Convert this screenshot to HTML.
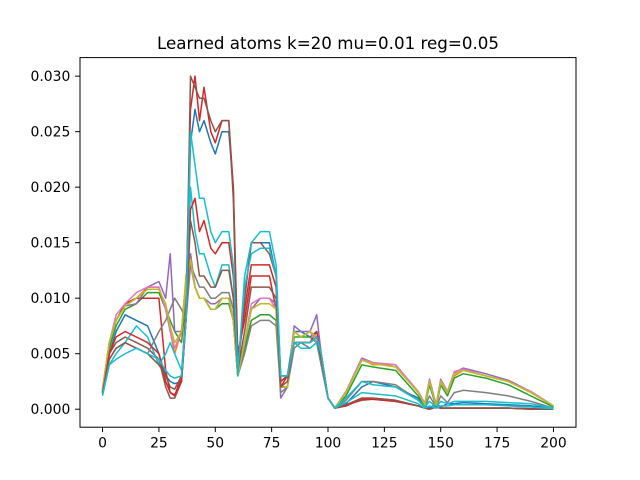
<!DOCTYPE html>
<html><head><meta charset="utf-8"><style>
html,body{margin:0;padding:0;background:#fff;width:640px;height:480px;overflow:hidden}
text{font-family:"DejaVu Sans","Liberation Sans",sans-serif}
</style></head><body>
<svg id="chart" width="640" height="480" xmlns="http://www.w3.org/2000/svg">
<rect width="640" height="480" fill="#fff"/>
<text x="328" y="49" font-size="16.7" text-anchor="middle">Learned atoms k=20 mu=0.01 reg=0.05</text>
<g id="plot"></g>
<rect x="80" y="57.6" width="496" height="369.6" fill="none" stroke="#000" stroke-width="1"/>
<g id="axes"></g>
</svg>
<script>
const xs=[0,3,6,10,15,20,25,28,30,32,35,37,39,41,43,45,48,50,53,56,58,60,63,66,70,74,77,79,82,85,88,92,95,97,100,103,108,115,120,130,140,143,145,148,150,153,156,160,170,180,190,200];
const blue=[1.5,5,7,8.5,8,7.5,5,3,2.5,2.3,2.5,8,24,27,25,26,24,23,25,25,20,4,10,15,15,15,12,3,3,7,7,6.5,7,5,1,0.1,0.5,2,2.5,2,1,0.3,0.1,0.5,0.2,0.5,0.5,0.6,0.5,0.4,0.3,0.1];
const orange=[1.8,6,8,9.5,10,11,11,9,7,5,7,12,14,11,10,10,9,9,10,10,8,3,6,9,10,10,9,2,2,7,6.5,7,6.5,4,1,0.1,1.5,4.5,4,4,1.5,0.5,2.5,0.3,2.5,1.5,3,3.5,3,2.5,1.5,0.3];
const green=[1.6,5.5,7.5,9,9.5,10.5,10.5,9,8,7,6,10,13,11,10,10,9,9,9.5,9.5,8,3,5.5,8,8.5,8.5,8,2,2,6.5,6.5,6.5,6,4,1,0.1,1.2,4,3.8,3.5,1.2,0.3,2.2,0.2,2.2,1.2,2.8,3.2,2.8,2.2,1.2,0.2];
const red=[1.5,6,8,9.5,10,10,10,3.5,1.5,1.2,3,9,27,30,26,29,25,24,26,26,20,5,8,12,12,12,9,2,3,6,6,6,7,5,1,0.1,0.3,1,1,0.8,0.3,0.1,0,0.2,0.1,0.1,0.1,0.1,0.1,0.1,0.05,0];
const red2=[1.4,5,6.5,7,6.5,6,5,2.5,1.5,1.3,2.5,8,18,19,16,17,14.5,14,15,15,12,4,9,13,13,13,11,2.5,3,6,6,6,6.5,5,1,0.1,0.3,0.9,0.9,0.7,0.3,0.1,0,0.2,0.1,0.1,0.1,0.1,0.1,0.1,0.05,0];
const purple=[1.8,6,8,9.3,9.5,11,11.5,10,14,7,7,11,14,11,10,10,9.5,9.5,10,10,8,3,6,9,10,10,9.5,1,2,7.5,7,7,8.5,5,1,0.1,1.6,4.6,4.2,4,1.6,0.5,2.7,0.4,2.7,1.6,3.3,3.7,3.2,2.6,1.6,0.3];
const brown=[1.5,5,6,6.5,6,5.5,4.5,2,1,1,2.5,8,30,29,28,28,26,25,26,26,19,3.5,10,15,15,14,12,2.5,3,6,6,6,6.5,5,1,0.1,0.4,0.8,0.9,0.7,0.3,0.1,0,0.2,0.1,0.1,0.1,0.1,0.1,0.1,0,0];
const brown2=[1.5,4.5,5.5,6,5.5,5,4,3,2,1.8,3,8,17,15,12,12,11,11,12.5,12.5,10,3.5,7,11,11,11,10,2,2.5,6,6,6,6.5,4.5,1,0.1,0.4,1,1,0.8,0.3,0.1,0,0.2,0.1,0.1,0.1,0.1,0.1,0.1,0,0];
const pink=[1.7,6,8.5,9.5,10.5,11,11,9,7,5.5,7,11,13,11,10,10,9,9,10,10,8,3,6,9.5,10,10,9,2,2,7,6.5,7,6,4.5,1,0.1,1.6,4.5,4.2,4,1.6,0.5,2.6,0.3,2.6,1.6,3.4,3.6,3,2.5,1.6,0.3];
const gray=[1.5,4.5,5.5,6,5.5,5,7,8,9,10,9,8,13,12,11,11,10,10,10.5,10.5,9,3,5,7.5,8,8,7.5,1.5,2,5.5,6,5.5,6,4,1,0.1,0.8,2.5,2.5,2.2,0.8,0.2,1.2,0.2,1.2,0.6,1.5,1.7,1.5,1.2,0.7,0.1];
const olive=[1.7,6,8,9.3,10,10.8,10.8,9.5,7.5,6,7,11.5,13.5,11,10,10,9,9,10,10,8,3,6,9,9.5,9.5,9,2,2,7,6.5,7,6.5,4.5,1,0.1,1.5,4.4,4.1,3.8,1.5,0.4,2.5,0.3,2.5,1.5,3.2,3.5,3,2.5,1.5,0.3];
const cyan=[1.2,4,5,6,7.5,6.5,4,5,6,5,3.5,8,20,16,14,14,12,11,13,13,10,3,12,15,16,16,13,3,3,6,5.5,5.5,6,4.5,1,0.1,1,2.5,2.2,2,0.8,0.2,0.7,0.2,0.7,0.5,0.7,0.7,0.7,0.6,0.5,0.1];
const cyan2=[1.3,4,4.5,5,5.5,5,4.5,3.5,3,2.8,3,8,25,22,19,19,16,15,16,16,13,3.5,11,14,14.5,14.5,12,3,3,6,6,6,6.5,5,1,0.1,0.6,1.5,1.4,1.2,0.5,0.1,0.3,0.1,0.3,0.3,0.4,0.4,0.4,0.3,0.2,0.05];
const seriesList=[blue,orange,green,red,purple,brown,pink,gray,olive,cyan,red2,brown2,cyan2];
const seriesNames=['blue','orange','green','red','purple','brown','pink','gray','olive','cyan','red-2','brown-2','cyan-2'];
const colors=['#1f77b4','#ff7f0e','#2ca02c','#d62728','#9467bd','#8c564b','#e377c2','#7f7f7f','#bcbd22','#17becf','#d62728','#8c564b','#17becf'];
const xTicks=[0,25,50,75,100,125,150,175,200];
const yTicks=[0,0.005,0.01,0.015,0.02,0.025,0.03];
const yTickLabels=['0.000','0.005','0.010','0.015','0.020','0.025','0.030'];
const SCALE=0.001;
const NS='http://www.w3.org/2000/svg';
const xMin=-10,xMax=210,yMin=-0.00162,yMax=0.03167;
const L=80,R=576,T=57.6,B=427.2;
function sx(v){return L+(v-xMin)/(xMax-xMin)*(R-L);}
function sy(v){return B-(v-yMin)/(yMax-yMin)*(B-T);}
const plot=document.getElementById('plot');
const axes=document.getElementById('axes');
seriesList.forEach((s,i)=>{
  const p=document.createElementNS(NS,'polyline');
  p.setAttribute('points',s.map((v,j)=>sx(xs[j]).toFixed(1)+','+sy(v*SCALE).toFixed(1)).join(' '));
  p.setAttribute('fill','none');p.setAttribute('stroke',colors[i]);p.setAttribute('stroke-width','1.5');
  p.setAttribute('stroke-linejoin','round');
  
  
  plot.appendChild(p);
});
xTicks.forEach(t=>{
  const x=sx(t);
  const l=document.createElementNS(NS,'line');
  l.setAttribute('x1',x);l.setAttribute('x2',x);l.setAttribute('y1',B);l.setAttribute('y2',B+4.9);l.setAttribute('stroke','#000');
  
  
  axes.appendChild(l);
  const tx=document.createElementNS(NS,'text');
  tx.setAttribute('x',x);tx.setAttribute('y',B+20.5);tx.setAttribute('font-size','13.9');tx.setAttribute('text-anchor','middle');
  tx.textContent=String(t);
  
  
  axes.appendChild(tx);
});
yTicks.forEach((t,i)=>{
  const y=sy(t);
  const l=document.createElementNS(NS,'line');
  l.setAttribute('x1',L-4.9);l.setAttribute('x2',L);l.setAttribute('y1',y);l.setAttribute('y2',y);l.setAttribute('stroke','#000');
  
  
  axes.appendChild(l);
  const tx=document.createElementNS(NS,'text');
  tx.setAttribute('x',L-9.7);tx.setAttribute('y',y+5);tx.setAttribute('font-size','13.9');tx.setAttribute('text-anchor','end');
  tx.textContent=yTickLabels[i];
  
  
  axes.appendChild(tx);
});
</script>
</body></html>
